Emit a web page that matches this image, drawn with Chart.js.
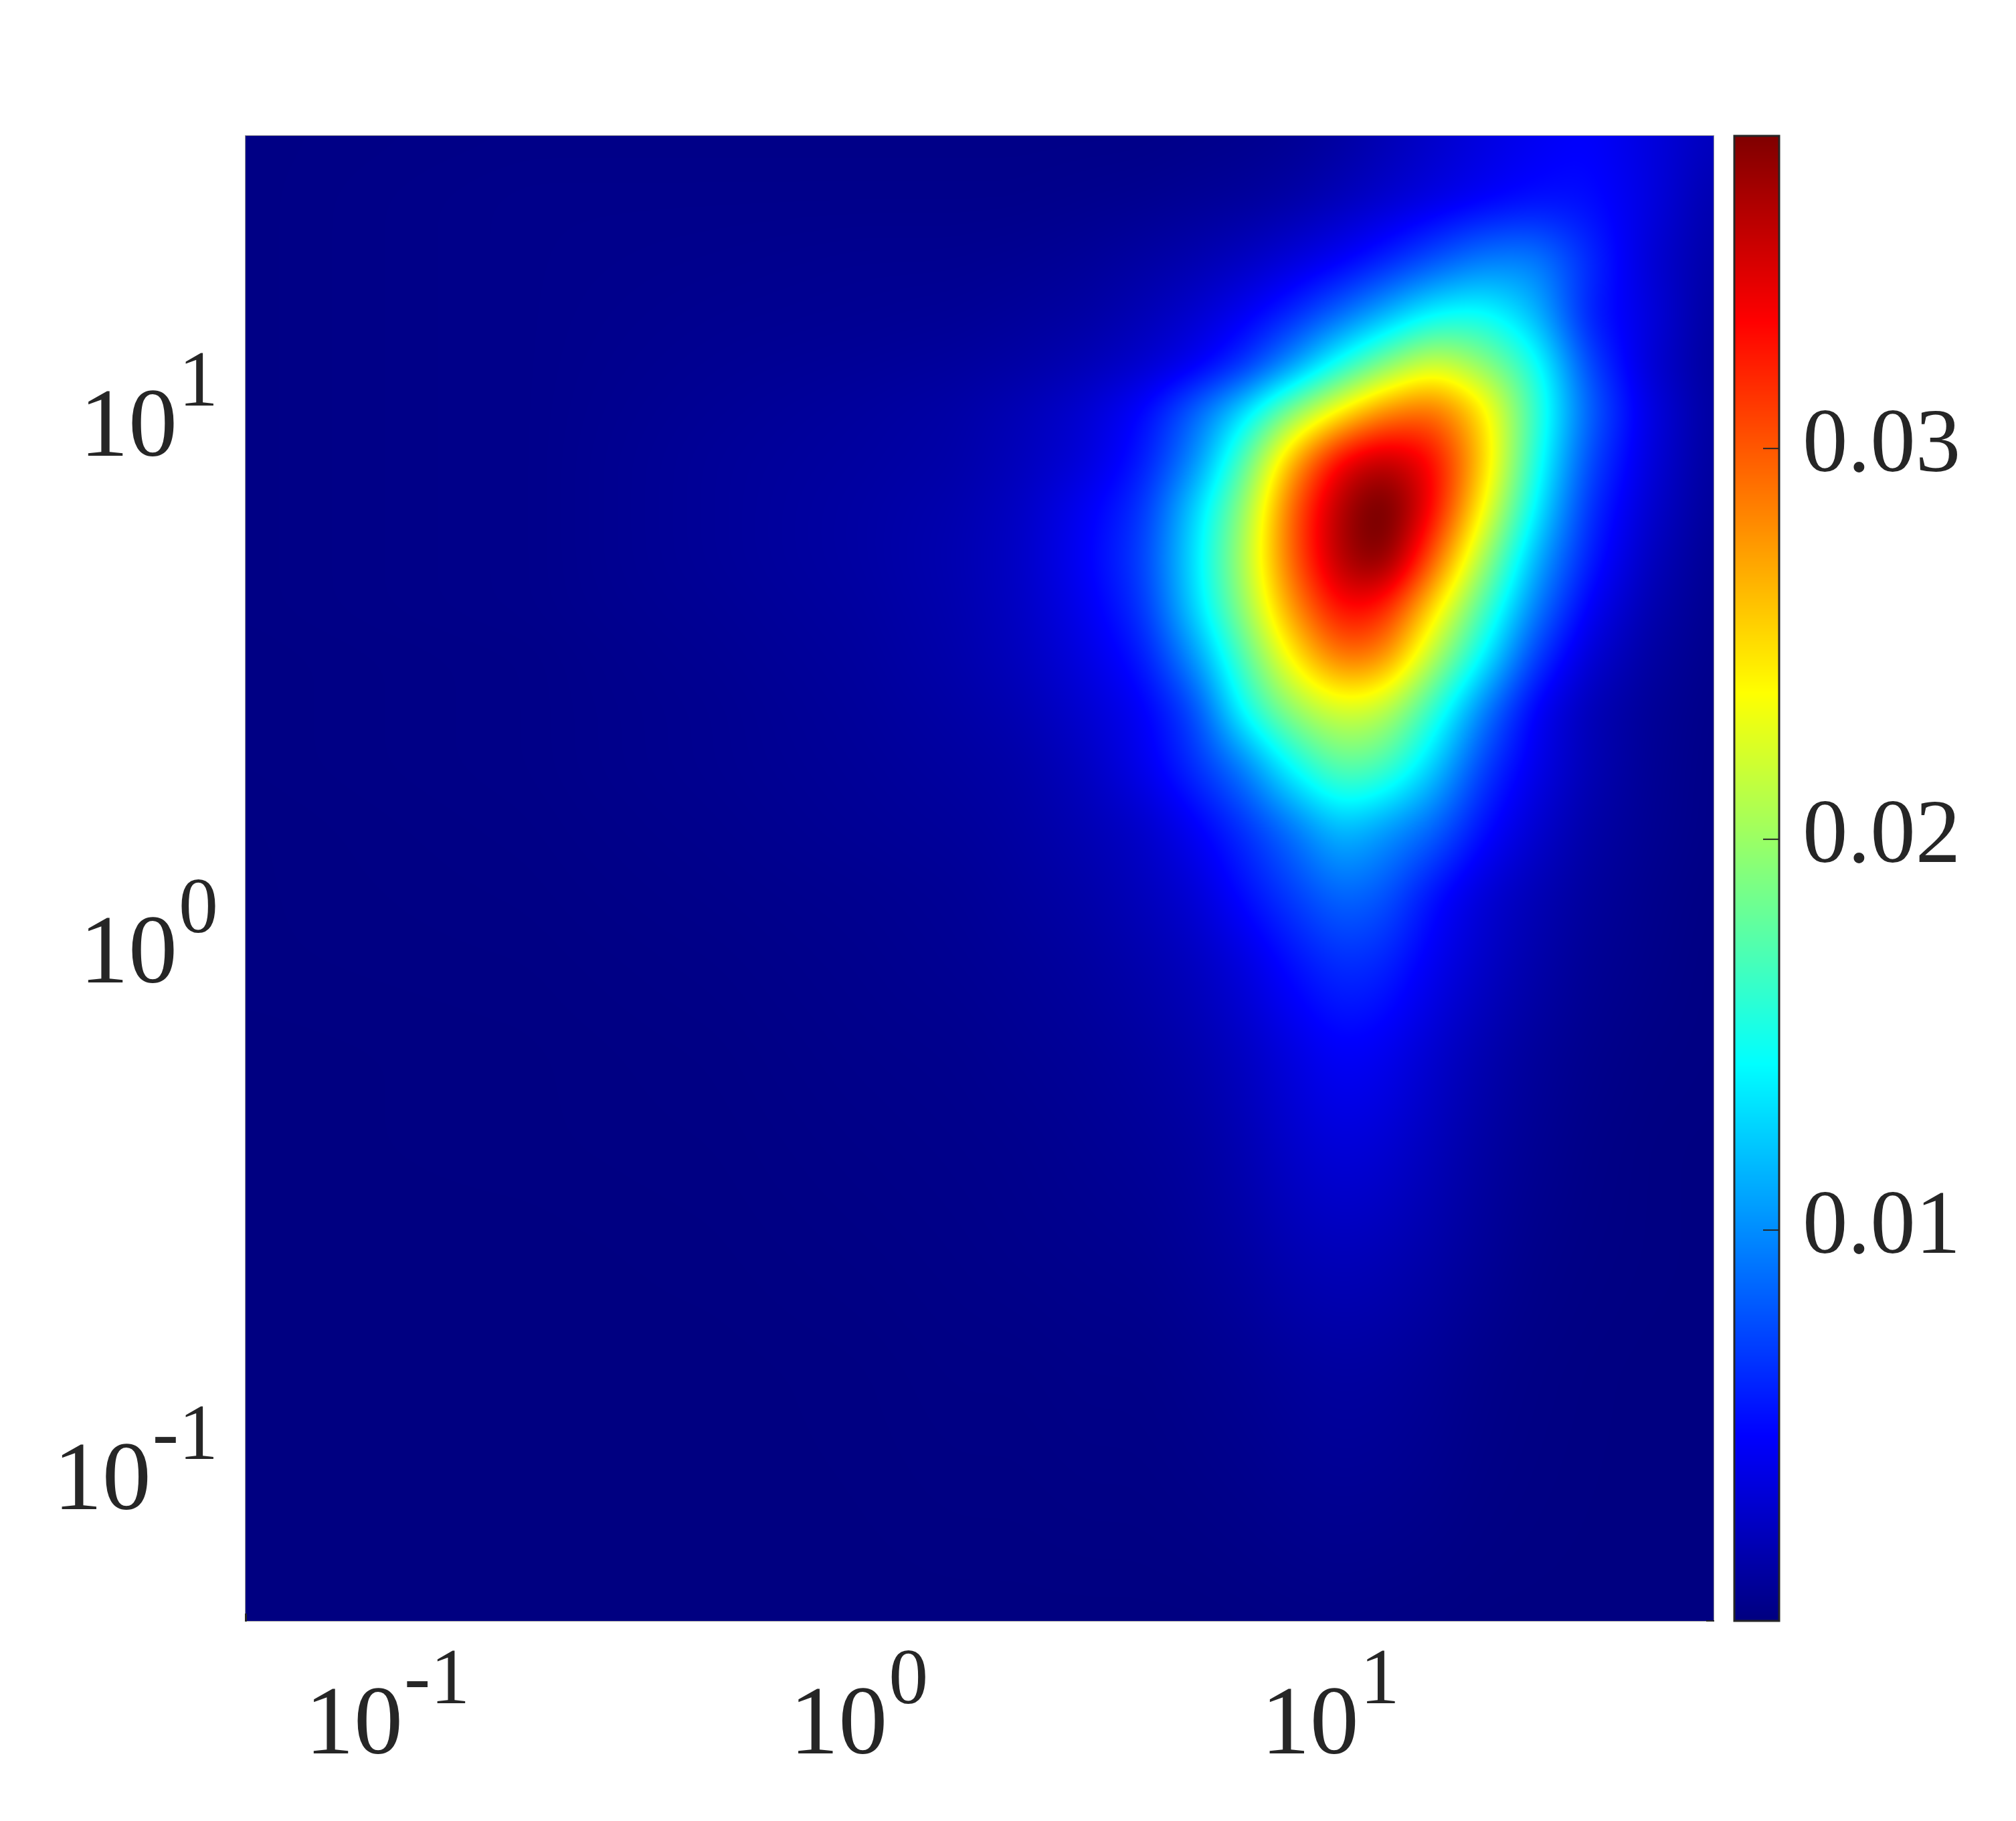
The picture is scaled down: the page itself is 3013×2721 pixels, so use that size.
<!DOCTYPE html>
<html>
<head>
<meta charset="utf-8">
<title>density map</title>
<script src="https://cdn.jsdelivr.net/npm/chart.js@4/dist/chart.umd.min.js"></script>
<style>
  html, body { margin: 0; padding: 0; background: #fff; }
  canvas { display: block; }
</style>
</head>
<body>
<canvas id="densityChart" width="3013" height="2721"></canvas>
<script>
// grid nodes
const xNodes = [0.05, 0.2, 0.5, 1, 1.6, 2.2, 3, 4, 5.2, 6.6, 8.3, 10.5, 13, 16.5, 21, 27, 35, 47, 65];
const yNodes = [33, 25, 19, 15, 12, 10, 8, 6.5, 5.2, 4.2, 3.4, 2.7, 2.1, 1.6, 1.2, 0.9, 0.6, 0.4, 0.25, 0.15, 0.05];

// estimated colour value x 1e-3, one array per y node, same order as xNodes
const zAt33   = [0.2, 0.3, 0.3, 0.3, 0.3, 0.3, 0.3, 0.3, 0.4, 0.5, 0.7, 1.2, 1.9, 2.7, 3.5, 4.2, 4.7, 3.6, 2.2];
const zAt25   = [0.2, 0.4, 0.4, 0.4, 0.4, 0.4, 0.5, 0.6, 0.8, 1.0, 1.4, 2.1, 2.8, 3.6, 4.4, 5.1, 5.2, 3.7, 1.6];
const zAt19   = [0.2, 0.4, 0.5, 0.6, 0.6, 0.7, 0.9, 1.3, 1.8, 2.5, 3.4, 4.5, 5.9, 7.8, 9.6, 9.8, 6.5, 3.2, 1.3];
const zAt15   = [0.2, 0.4, 0.6, 0.7, 0.8, 1.0, 1.3, 2.0, 3.0, 4.4, 6.2, 8.8, 11.5, 14.5, 15.0, 12.0, 5.8, 3.6, 1.0];
const zAt12   = [0.2, 0.4, 0.7, 0.9, 1.1, 1.4, 2.0, 2.9, 4.3, 6.6, 10.5, 15.5, 19.5, 23.0, 20.0, 15.5, 7.5, 3.2, 0.9];
const zAt10   = [0.2, 0.4, 0.8, 1.1, 1.4, 2.0, 3.0, 4.8, 8.5, 13.0, 19.0, 24.0, 28.0, 29.5, 25.0, 16.5, 8.5, 3.8, 1.0];
const zAt8    = [0.2, 0.4, 0.9, 1.2, 1.5, 2.2, 3.3, 5.5, 10.0, 17.5, 27.0, 34.0, 36.0, 33.5, 26.0, 15.5, 7.5, 3.5, 0.9];
const zAt6_5  = [0.2, 0.4, 0.9, 1.3, 1.7, 2.5, 4.3, 6.5, 12.8, 20.0, 30.0, 36.5, 39.5, 33.5, 24.0, 14.0, 6.5, 3.0, 0.8];
const zAt5_2  = [0.2, 0.4, 0.9, 1.3, 1.8, 2.6, 4.5, 7.0, 13.5, 21.0, 30.0, 36.5, 38.5, 30.0, 20.5, 11.5, 5.8, 2.4, 0.6];
const zAt4_2  = [0.2, 0.4, 0.8, 1.2, 1.7, 2.5, 4.1, 6.5, 13.0, 20.0, 28.0, 33.5, 32.5, 25.0, 17.0, 9.5, 4.5, 1.8, 0.5];
const zAt3_4  = [0.15, 0.3, 0.7, 1.1, 1.6, 2.3, 3.6, 5.5, 10.5, 17.5, 24.5, 29.5, 28.5, 21.0, 14.0, 7.0, 3.2, 1.3, 0.4];
const zAt2_7  = [0.15, 0.3, 0.6, 1.0, 1.4, 1.9, 3.0, 4.4, 7.5, 15.0, 20.0, 22.5, 21.5, 16.0, 9.5, 4.5, 2.1, 0.9, 0.3];
const zAt2_1  = [0.15, 0.3, 0.6, 0.9, 1.2, 1.5, 2.4, 4.0, 6.5, 9.5, 14.5, 18.0, 17.0, 12.5, 7.0, 4.0, 2.0, 0.8, 0.25];
const zAt1_6  = [0.1, 0.25, 0.5, 0.8, 1.0, 1.3, 1.9, 2.7, 4.4, 6.5, 9.0, 12.0, 10.5, 8.5, 5.2, 3.0, 1.5, 0.7, 0.25];
const zAt1_2  = [0.1, 0.2, 0.4, 0.6, 0.8, 1.1, 1.5, 2.2, 3.2, 5.2, 7.0, 8.8, 8.0, 5.2, 3.2, 2.0, 1.1, 0.5, 0.15];
const zAt0_9  = [0.1, 0.15, 0.3, 0.5, 0.7, 0.9, 1.2, 1.7, 2.4, 3.6, 5.3, 6.6, 6.2, 4.2, 2.7, 1.6, 0.8, 0.4, 0.1];
const zAt0_6  = [0.05, 0.1, 0.2, 0.4, 0.5, 0.7, 0.9, 1.2, 1.7, 2.5, 3.6, 4.6, 4.2, 2.9, 1.8, 1.0, 0.5, 0.2, 0.1];
const zAt0_4  = [0.05, 0.1, 0.15, 0.3, 0.4, 0.5, 0.7, 0.9, 1.2, 1.9, 2.8, 3.4, 3.1, 2.2, 1.3, 0.7, 0.3, 0.1, 0.05];
const zAt0_25 = [0.05, 0.05, 0.1, 0.2, 0.3, 0.4, 0.5, 0.6, 0.9, 1.3, 1.9, 2.2, 2.0, 1.5, 0.9, 0.4, 0.2, 0.1, 0.05];
const zAt0_15 = [0.05, 0.05, 0.05, 0.1, 0.2, 0.2, 0.3, 0.3, 0.5, 0.7, 1.0, 1.2, 1.1, 0.8, 0.4, 0.2, 0.1, 0.05, 0.05];
const zAt0_05 = [0.05, 0.05, 0.05, 0.05, 0.05, 0.05, 0.05, 0.05, 0.05, 0.1, 0.15, 0.2, 0.15, 0.1, 0.05, 0.05, 0.05, 0.05, 0.05];
const zRows = [zAt33, zAt25, zAt19, zAt15, zAt12, zAt10, zAt8, zAt6_5, zAt5_2, zAt4_2, zAt3_4, zAt2_7,
               zAt2_1, zAt1_6, zAt1_2, zAt0_9, zAt0_6, zAt0_4, zAt0_25, zAt0_15, zAt0_05];

const xTickValues = [0.1, 1, 10];
const yTickValues = [0.1, 1, 10];
const tickExponents = ['-1', '0', '1'];
const cbTickValues = [0.01, 0.02, 0.03];
const cbTickLabels = ['0.01', '0.02', '0.03'];
const cbMax = 0.038;

const TEXT = '#262626';
const BAR_LEFT = 2592, BAR_RIGHT = 2659;

// matlab jet, t in 0..1
function jet(t) {
    t = Math.min(1, Math.max(0, t));
    const ramp = v => Math.min(1, Math.max(0, v));
    const r = ramp(Math.min(4 * t - 1.5, -4 * t + 4.5));
    const g = ramp(Math.min(4 * t - 0.5, -4 * t + 3.5));
    const b = ramp(Math.min(4 * t + 0.5, -4 * t + 2.5));
    return [Math.round(r * 255), Math.round(g * 255), Math.round(b * 255)];
}

function boxBlur(src, w, h, radius) {
    const line = new Float32Array(Math.max(w, h));
    const span = 2 * radius + 1;
    const pass = (len, count, at) => {
        for (let c = 0; c < count; c++) {
            for (let i = 0; i < len; i++) line[i] = src[at(c, i)];
            let sum = 0;
            for (let k = -radius; k <= radius; k++) sum += line[Math.min(len - 1, Math.max(0, k))];
            for (let i = 0; i < len; i++) {
                src[at(c, i)] = sum / span;
                sum += line[Math.min(len - 1, i + radius + 1)] - line[Math.max(0, i - radius)];
            }
        }
    };
    pass(w, h, (c, i) => c * w + i);
    pass(h, w, (c, i) => i * w + c);
}

// interpolated shading of the grid, like shading interp in matlab
function drawSurface(chart) {
    const area = chart.chartArea;
    const w = Math.round(area.right - area.left);
    const h = Math.round(area.bottom - area.top);
    const xPix = xNodes.map(v => chart.scales.x.getPixelForValue(v) - area.left);
    const yPix = yNodes.map(v => chart.scales.y.getPixelForValue(v) - area.top);

    const cell = (nodes, p) => {
        let i = 0;
        while (i < nodes.length - 2 && p > nodes[i + 1]) i++;
        return [i, Math.min(1, Math.max(0, (p - nodes[i]) / (nodes[i + 1] - nodes[i])))];
    };
    const xCell = [];
    for (let px = 0; px < w; px++) xCell.push(cell(xPix, px));

    const buf = new Float32Array(w * h);
    for (let py = 0; py < h; py++) {
        const [j, fy] = cell(yPix, py);
        const top = zRows[j], low = zRows[j + 1];
        for (let px = 0; px < w; px++) {
            const [i, fx] = xCell[px];
            const a = top[i] + (top[i + 1] - top[i]) * fx;
            const b = low[i] + (low[i + 1] - low[i]) * fx;
            buf[py * w + px] = a + (b - a) * fy;
        }
    }
    boxBlur(buf, w, h, 28);
    boxBlur(buf, w, h, 28);

    const off = document.createElement('canvas');
    off.width = w;
    off.height = h;
    const offCtx = off.getContext('2d');
    const img = offCtx.createImageData(w, h);
    for (let n = 0; n < buf.length; n++) {
        const c = jet(buf[n] * 1e-3 / cbMax);
        img.data[n * 4] = c[0];
        img.data[n * 4 + 1] = c[1];
        img.data[n * 4 + 2] = c[2];
        img.data[n * 4 + 3] = 255;
    }
    offCtx.putImageData(img, 0, 0);
    chart.ctx.drawImage(off, area.left, area.top);
}

function drawFrame(chart) {
    const ctx = chart.ctx, a = chart.chartArea;
    ctx.strokeStyle = '#9a9a9a';
    ctx.lineWidth = 1;
    ctx.strokeRect(a.left - 0.5, a.top - 0.5, a.right - a.left + 1, a.bottom - a.top + 1);
    // what is left of the axis ticks at the corners
    ctx.fillStyle = TEXT;
    ctx.fillRect(a.left - 1, a.bottom - 11, 3, 12);
    ctx.fillRect(a.right - 11, a.bottom - 1, 12, 2);
}

function drawColorbar(chart) {
    const ctx = chart.ctx, cb = chart.scales.cb;
    const top = Math.round(cb.getPixelForValue(cbMax));
    const bottom = Math.round(cb.getPixelForValue(0));
    for (let py = top; py < bottom; py++) {
        const c = jet(cb.getValueForPixel(py + 0.5) / cbMax);
        ctx.fillStyle = `rgb(${c[0]},${c[1]},${c[2]})`;
        ctx.fillRect(BAR_LEFT, py, BAR_RIGHT - BAR_LEFT, 1);
    }
    ctx.strokeStyle = TEXT;
    ctx.lineWidth = 3;
    ctx.strokeRect(BAR_LEFT, top, BAR_RIGHT - BAR_LEFT, bottom - top);

    ctx.font = '135px "Liberation Serif"';
    ctx.textAlign = 'left';
    ctx.textBaseline = 'alphabetic';
    cb.ticks.forEach((t, i) => {
        const py = cb.getPixelForValue(t.value);
        ctx.fillStyle = TEXT;
        ctx.fillRect(BAR_RIGHT - 24, py - 1, 24, 2);
        ctx.fillText(cbTickLabels[i], 2694, py + 34);
    });
}

// 10 with a raised exponent, x is the left end of the label
function drawPower(ctx, x, baseline, exponent) {
    ctx.fillStyle = TEXT;
    ctx.textAlign = 'left';
    ctx.textBaseline = 'alphabetic';
    ctx.font = '146px "Liberation Serif"';
    ctx.fillText('10', x, baseline);
    const end = x + ctx.measureText('10').width + 2;
    ctx.font = '118px "Liberation Serif"';
    ctx.fillText(exponent, end, baseline - 75);
}

function powerWidth(ctx, exponent) {
    ctx.font = '146px "Liberation Serif"';
    const base = ctx.measureText('10').width + 2;
    ctx.font = '118px "Liberation Serif"';
    return base + ctx.measureText(exponent).width;
}

function drawAxisLabels(chart) {
    const ctx = chart.ctx;
    chart.scales.x.ticks.forEach((t, i) => {
        const w = powerWidth(ctx, tickExponents[i]);
        drawPower(ctx, chart.scales.x.getPixelForValue(t.value) - w / 2, 2620, tickExponents[i]);
    });
    chart.scales.y.ticks.forEach((t, i) => {
        const w = powerWidth(ctx, tickExponents[i]);
        drawPower(ctx, 326 - w, chart.scales.y.getPixelForValue(t.value) + 70, tickExponents[i]);
    });
}

const surfacePlugin = {
    id: 'surface',
    beforeDatasetsDraw(chart) {
        drawSurface(chart);
        drawFrame(chart);
        drawColorbar(chart);
    },
    afterDraw(chart) {
        drawAxisLabels(chart);
    }
};

const gridPoints = [];
yNodes.forEach((y, j) => {
    xNodes.forEach((x, i) => gridPoints.push({ x: x, y: y, z: zRows[j][i] * 1e-3 }));
});

new Chart(document.getElementById('densityChart').getContext('2d'), {
    type: 'scatter',
    data: { datasets: [{ label: 'density', data: gridPoints, pointRadius: 0, showLine: false }] },
    plugins: [surfacePlugin],
    options: {
        responsive: false,
        animation: false,
        devicePixelRatio: 1,
        layout: { padding: { left: 367, right: 452, top: 203, bottom: 299 } },
        plugins: { legend: { display: false }, tooltip: { enabled: false } },
        scales: {
            x: {
                type: 'logarithmic', min: 0.05, max: 65, display: false,
                afterBuildTicks: s => { s.ticks = xTickValues.map(v => ({ value: v })); }
            },
            y: {
                type: 'logarithmic', min: 0.05, max: 33, display: false,
                afterBuildTicks: s => { s.ticks = yTickValues.map(v => ({ value: v })); }
            },
            cb: {
                type: 'linear', position: 'right', min: 0, max: cbMax, display: false,
                afterBuildTicks: s => { s.ticks = cbTickValues.map(v => ({ value: v })); }
            }
        }
    }
});
</script>
</body>
</html>
